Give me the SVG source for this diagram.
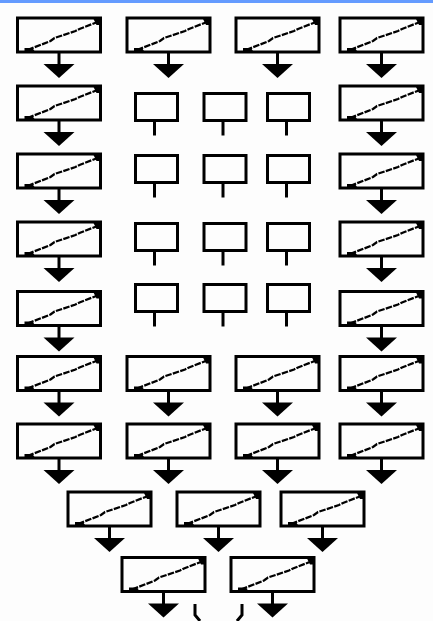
<svg xmlns="http://www.w3.org/2000/svg" width="433" height="621" viewBox="0 0 433 621">
<style>
.l{fill:none;stroke:#000;stroke-width:3}
.d{fill:none;stroke:#000;stroke-width:2.300;stroke-dasharray:6.500 1.300}
.h{fill:#000}
</style>
<defs>
<filter id="soft" x="-2%" y="-2%" width="104%" height="104%"><feGaussianBlur stdDeviation="0.500"/></filter>
<g id="big"><rect class="l" x="0" y="0" width="83" height="34"/><path class="d" d="M10 32L33 23L37 20L58 13L62 11L80 4"/><path class="h" d="M7 30H15L17 33H7ZM76 1H82V7H79Z"/><path class="l" d="M41.500 34V47"/><path class="h" d="M26 46H57L41.500 60Z"/></g>
<g id="small"><rect class="l" x="0" y="0" width="42" height="27"/><path class="l" d="M19 27V42"/></g>
</defs>
<rect x="0" y="0" width="433" height="621" fill="#fdfdfd"/>
<rect x="0" y="0" width="433" height="3" fill="#649bff"/>
<g filter="url(#soft)">
<g id="connectors"><path class="l" d="M195 604V615L200 621M242 604V615L237 621"/></g>
<g id="n1"><use href="#big" x="17.500" y="18"/></g>
<g id="n2"><use href="#big" x="127" y="18"/></g>
<g id="n3"><use href="#big" x="236" y="18"/></g>
<g id="n4"><use href="#big" x="340" y="18"/></g>
<g id="n5"><use href="#big" x="17.500" y="86"/></g>
<g id="n6"><use href="#small" x="135.500" y="93.500"/></g>
<g id="n7"><use href="#small" x="204" y="93.500"/></g>
<g id="n8"><use href="#small" x="267.500" y="93.500"/></g>
<g id="n9"><use href="#big" x="340" y="86"/></g>
<g id="n10"><use href="#big" x="17.500" y="154"/></g>
<g id="n11"><use href="#small" x="135.500" y="155.500"/></g>
<g id="n12"><use href="#small" x="204" y="155.500"/></g>
<g id="n13"><use href="#small" x="267.500" y="155.500"/></g>
<g id="n14"><use href="#big" x="340" y="154"/></g>
<g id="n15"><use href="#big" x="17.500" y="222"/></g>
<g id="n16"><use href="#small" x="135.500" y="223.500"/></g>
<g id="n17"><use href="#small" x="204" y="223.500"/></g>
<g id="n18"><use href="#small" x="267.500" y="223.500"/></g>
<g id="n19"><use href="#big" x="340" y="222"/></g>
<g id="n20"><use href="#big" x="17.500" y="291.500"/></g>
<g id="n21"><use href="#small" x="135.500" y="284.500"/></g>
<g id="n22"><use href="#small" x="204" y="284.500"/></g>
<g id="n23"><use href="#small" x="267.500" y="284.500"/></g>
<g id="n24"><use href="#big" x="340" y="291.500"/></g>
<g id="n25"><use href="#big" x="17.500" y="356.500"/></g>
<g id="n26"><use href="#big" x="127" y="356.500"/></g>
<g id="n27"><use href="#big" x="236" y="356.500"/></g>
<g id="n28"><use href="#big" x="340" y="356.500"/></g>
<g id="n29"><use href="#big" x="17.500" y="424"/></g>
<g id="n30"><use href="#big" x="127" y="424"/></g>
<g id="n31"><use href="#big" x="236" y="424"/></g>
<g id="n32"><use href="#big" x="340" y="424"/></g>
<g id="n33"><use href="#big" x="68" y="492"/></g>
<g id="n34"><use href="#big" x="177" y="492"/></g>
<g id="n35"><use href="#big" x="281" y="492"/></g>
<g id="n36"><use href="#big" x="122" y="557.500"/></g>
<g id="n37"><use href="#big" x="231" y="557.500"/></g>
</g>
</svg>
